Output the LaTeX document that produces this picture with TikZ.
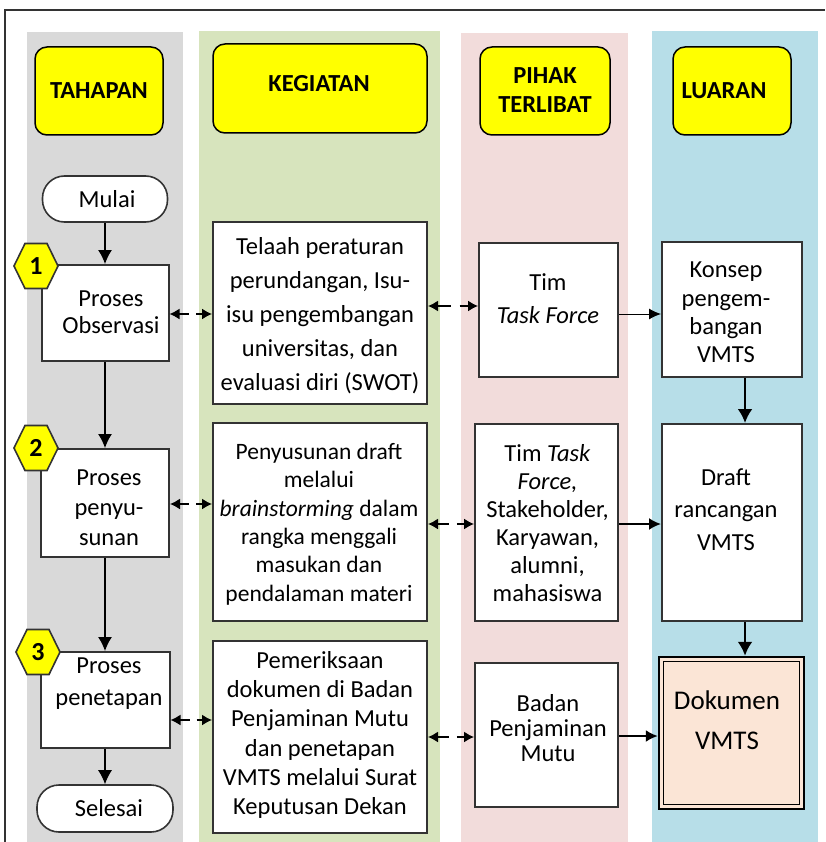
\documentclass[tikz,border=0pt]{standalone}
\usepackage{fontspec}
\setmainfont{Carlito}
\usetikzlibrary{arrows.meta,calc}
\definecolor{laneGray}{HTML}{D9D9D9}
\definecolor{laneGreen}{HTML}{D7E4BD}
\definecolor{lanePink}{HTML}{F2DCDB}
\definecolor{laneBlue}{HTML}{B7DEE8}
\definecolor{hdrYellow}{HTML}{FFFF00}
\definecolor{docPeach}{HTML}{FBE5D6}
\definecolor{boxLine}{HTML}{333333}
\newcommand\bidir[3]{%
  \draw[line width=1.5pt,{Latex[length=10pt,width=11pt]}-] (#1.east |- 0,#3) -- ($(#1.east |- 0,#3)!0.46!(#2.west |- 0,#3)$);
  \draw[line width=1.5pt,-{Latex[length=10pt,width=11pt]}] ($(#1.east |- 0,#3)!0.63!(#2.west |- 0,#3)$) -- (#2.west |- 0,#3);
}
\newcommand\hexnum[4]{%
  \draw[hexa] (#1-22,#2) -- (#1-11,#2-22.5) -- (#1+11,#2-22.5) -- (#1+22,#2) -- (#1+11,#2+22.5) -- (#1-11,#2+22.5) -- cycle;
  \node[hexlbl] (#4) at (#1,#2) {#3};
}
\begin{document}
\begin{tikzpicture}[x=1pt,y=-1pt,
  hdr/.style={draw=black,line width=1.5pt,fill=hdrYellow,rounded corners=12pt,inner sep=0pt},
  hdrtxt/.style={inner sep=0pt,align=center,font=\fontsize{24.5}{29}\selectfont\bfseries},
  box/.style={draw=boxLine,line width=2pt,fill=white,inner sep=0pt},
  txt/.style={inner sep=0pt,align=center,font=\fontsize{24.5}{29}\selectfont},
  term/.style={draw=boxLine,line width=1.6pt,fill=white,rounded corners=22pt,inner sep=0pt,font=\fontsize{24.5}{29}\selectfont},
  hexa/.style={draw=boxLine,line width=1.6pt,fill=hdrYellow},
  hexlbl/.style={inner sep=0pt,font=\fontsize{26}{26}\selectfont\bfseries},
  thinarr/.style={line width=1.2pt,-{Latex[length=14pt,width=14pt]}},
  thickarr/.style={line width=2.5pt,-{Latex[length=14pt,width=15pt]}},
]
\useasboundingbox (0,0) rectangle (825,842);
% lanes
\fill[laneGray] (27,32) rectangle (183,842);
\fill[laneGreen] (199,31) rectangle (440,842);
\fill[lanePink] (461,33) rectangle (628,842);
\fill[laneBlue] (652,31) rectangle (818,842);
% frame
\draw[line width=2.5pt,draw=boxLine] (5,842) -- (5,10) -- (825,10);
% headers
\node[hdr,minimum width=128pt,minimum height=88pt] (hT) at (99,91) {};
\node[hdr,minimum width=214pt,minimum height=89pt] (hK) at (320,88.5) {};
\node[hdr,minimum width=130pt,minimum height=88pt] (hP) at (545,91) {};
\node[hdr,minimum width=118pt,minimum height=88pt] (hL) at (732,91) {};
\node[hdrtxt] (hTt) at (99,91) {TAHAPAN};
\node[hdrtxt] (hKt) at (319,84) {KEGIATAN};
\node[hdrtxt] (hPt) at (545,90) {PIHAK\\TERLIBAT};
\node[hdrtxt] (hLt) at (724,91) {LUARAN};
% tahapan
\node[term,minimum width=125pt,minimum height=46pt] (mulai) at (105,199) {\hspace{4pt}Mulai};
\node[box,minimum width=127pt,minimum height=96pt] (t1) at (105,313) {};
\node[box,minimum width=128pt,minimum height=108pt] (t2) at (105,503) {};
\node[box,minimum width=129pt,minimum height=96pt] (t3) at (105,700) {};
\node[term,minimum width=136pt,minimum height=47pt] (selesai) at (105,808.5) {\hspace{8pt}Selesai};
\node[txt,font=\fontsize{24.5}{27}\selectfont] (t1t) at (111,312.5) {Proses\\Observasi};
\node[txt,font=\fontsize{24.5}{30}\selectfont] (t2t) at (109,508) {Proses\\penyu-\\sunan};
\node[txt,font=\fontsize{24.5}{32}\selectfont] (t3t) at (109,684) {Proses\\penetapan};
\hexnum{36}{266}{1}{hx1}
\hexnum{36}{448}{2}{hx2}
\hexnum{38}{652}{3}{hx3}
% kegiatan
\node[box,minimum width=214pt,minimum height=182pt] (k1) at (320,313) {};
\node[box,minimum width=214pt,minimum height=198pt] (k2) at (320,522) {};
\node[box,minimum width=214pt,minimum height=192pt] (k3) at (320,737) {};
\node[txt,font=\fontsize{24.5}{34}\selectfont] (k1t) at (320,315.5) {Telaah peraturan\\perundangan, Isu-\\isu pengembangan\\universitas, dan\\evaluasi diri (SWOT)};
\node[txt,font=\fontsize{23.5}{28.4}\selectfont] (k2t) at (319,524) {Penyusunan draft\\melalui\\\textit{brainstorming} dalam\\rangka menggali\\masukan dan\\pendalaman materi};
\node[txt,font=\fontsize{24.5}{29.2}\selectfont] (k3t) at (320,735) {Pemeriksaan\\dokumen di Badan\\Penjaminan Mutu\\dan penetapan\\VMTS melalui Surat\\Keputusan Dekan};
% pihak
\node[box,minimum width=139pt,minimum height=134pt] (p1) at (548.5,310) {};
\node[box,minimum width=143pt,minimum height=197pt] (p2) at (546.5,522.5) {};
\node[box,minimum width=143pt,minimum height=144pt] (p3) at (546.5,735) {};
\node[txt,font=\fontsize{24.5}{33}\selectfont] (p1t) at (548,298.5) {Tim\\\textit{Task Force}};
\node[txt,font=\fontsize{24.5}{28}\selectfont] (p2t) at (547.5,523) {Tim \textit{Task}\\\textit{Force,}\\Stakeholder,\\Karyawan,\\alumni,\\mahasiswa};
\node[txt,font=\fontsize{24.5}{25}\selectfont] (p3t) at (548,728) {Badan\\Penjaminan\\Mutu};
% luaran
\node[box,minimum width=140pt,minimum height=135pt] (l1) at (732,309.5) {};
\node[box,minimum width=140pt,minimum height=197pt] (l2) at (732,522.5) {};
\node[box,draw=black,line width=2.5pt,fill=docPeach,minimum width=145pt,minimum height=152pt] (l3) at (731.5,733) {};
\draw[line width=1.3pt] ([shift={(5.5,5.5)}]l3.north west) rectangle ([shift={(-5.5,-5.5)}]l3.south east);
\node[txt,font=\fontsize{24.5}{28.3}\selectfont] (l1t) at (726,312.5) {Konsep\\pengem-\\bangan\\VMTS};
\node[txt,font=\fontsize{24.5}{32.5}\selectfont] (l2t) at (726,509.5) {Draft\\rancangan\\VMTS};
\node[txt,font=\fontsize{27}{40}\selectfont] (l3t) at (727,720) {Dokumen\\VMTS};
% vertical arrows
\draw[thinarr] (mulai.south) -- (t1.north);
\draw[thinarr] (t1.south) -- (t2.north);
\draw[thinarr] (t2.south) -- (t3.north);
\draw[thinarr] (t3.south) -- (selesai.north);
\draw[thickarr] (l1.south -| 745,0) -- (l2.north -| 745,0);
\draw[thickarr] (l2.south -| 745,0) -- (l3.north -| 745,0);
% horizontal arrows
\bidir{t1}{k1}{314}
\bidir{k1}{p1}{306}
\draw[line width=1pt,-{Latex[length=12pt,width=11pt]}] (p1.east |- 0,314) -- (l1.west |- 0,314);
\bidir{t2}{k2}{504}
\bidir{k2}{p2}{524}
\draw[line width=2pt,-{Latex[length=12pt,width=12pt]}] (p2.east |- 0,524) -- (l2.west |- 0,524);
\bidir{t3}{k3}{720}
\bidir{k3}{p3}{737}
\draw[line width=2pt,-{Latex[length=12pt,width=12pt]}] (p3.east |- 0,736) -- (l3.west |- 0,736);
\end{tikzpicture}
\end{document}
